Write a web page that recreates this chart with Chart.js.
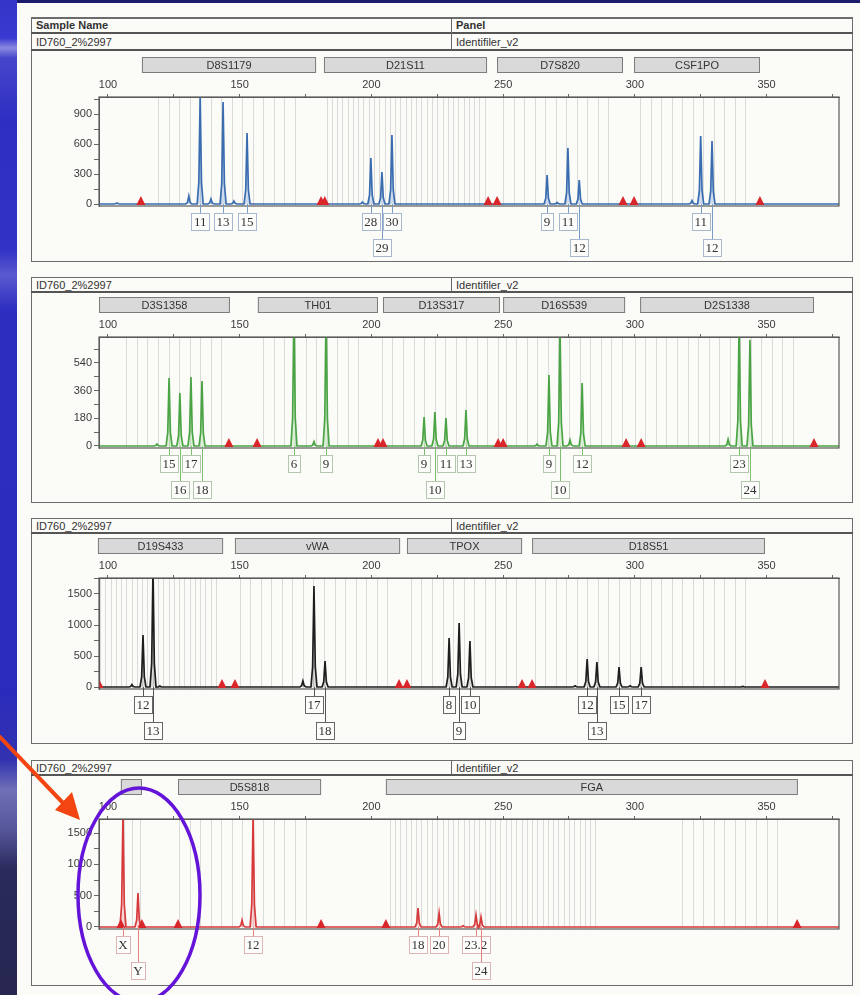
<!DOCTYPE html>
<html><head><meta charset="utf-8">
<script src="https://cdn.jsdelivr.net/npm/chart.js@4.4.1/dist/chart.umd.min.js"></script>
<style>
body{margin:0;width:860px;height:995px;overflow:hidden;background:#1c1c6e;position:relative;font-family:"Liberation Sans",Arial,sans-serif;}
#strip{position:absolute;left:0;top:0;width:17px;height:995px;
 background:linear-gradient(180deg,#3434c8 0px,#3a3ad2 38px,#8a8ae0 48px,#4646cc 58px,#2e2ec2 120px,#3232c6 250px,#5a5ad0 275px,#2d2dc0 310px,#2b2bbc 690px,#3232b0 760px,#7070b8 790px,#55559a 830px,#2a2a5c 870px,#262650 995px);}
#paper{position:absolute;left:17px;top:3px;width:843px;height:992px;background:#fbfbf8;}
.pbox{position:absolute;border:1.5px solid #6c6c6c;box-sizing:border-box;}
.hl{position:absolute;height:0;border-top:2px solid #555;}
.vl{position:absolute;width:0;border-left:1.5px solid #666;}
.ht{position:absolute;font-size:11px;color:#333;line-height:14px;white-space:nowrap;}
.b{font-weight:bold;}
canvas{position:absolute;}
svg{position:absolute;left:0;top:0;}
</style></head>
<body>
<div id="strip"></div>
<div id="paper"></div>

<!-- Panel 1 frame -->
<div class="pbox" style="left:31px;top:17px;width:822px;height:245px;border-top-width:2px"></div>
<div class="hl" style="left:31px;top:32px;width:822px"></div>
<div class="hl" style="left:31px;top:49px;width:822px"></div>
<div class="vl" style="left:451px;top:17px;height:33px"></div>
<div class="ht b" style="left:36px;top:18px">Sample Name</div>
<div class="ht b" style="left:456px;top:18px">Panel</div>
<div class="ht" style="left:36px;top:35px">ID760_2%2997</div>
<div class="ht" style="left:456px;top:35px">Identifiler_v2</div>

<!-- Panel 2 frame -->
<div class="pbox" style="left:31px;top:277px;width:822px;height:226px"></div>
<div class="hl" style="left:31px;top:291px;width:822px"></div>
<div class="vl" style="left:451px;top:277px;height:15px"></div>
<div class="ht" style="left:36px;top:278px">ID760_2%2997</div>
<div class="ht" style="left:456px;top:278px">Identifiler_v2</div>

<!-- Panel 3 frame -->
<div class="pbox" style="left:31px;top:518px;width:822px;height:226px"></div>
<div class="hl" style="left:31px;top:532px;width:822px"></div>
<div class="vl" style="left:451px;top:518px;height:15px"></div>
<div class="ht" style="left:36px;top:519px">ID760_2%2997</div>
<div class="ht" style="left:456px;top:519px">Identifiler_v2</div>

<!-- Panel 4 frame -->
<div class="pbox" style="left:31px;top:760px;width:822px;height:226px"></div>
<div class="hl" style="left:31px;top:774px;width:822px"></div>
<div class="vl" style="left:451px;top:760px;height:15px"></div>
<div class="ht" style="left:36px;top:761px">ID760_2%2997</div>
<div class="ht" style="left:456px;top:761px">Identifiler_v2</div>

<canvas id="c1" width="819" height="209" style="left:32px;top:51px"></canvas>
<canvas id="c2" width="819" height="208" style="left:32px;top:293px"></canvas>
<canvas id="c3" width="819" height="207" style="left:32px;top:535px"></canvas>
<canvas id="c4" width="819" height="207" style="left:32px;top:777px"></canvas>

<svg width="860" height="995" viewBox="0 0 860 995">
  <ellipse cx="139" cy="895" rx="61" ry="107" fill="none" stroke="#6414d8" stroke-width="3.5"/>
  <line x1="-2" y1="735" x2="64" y2="804" stroke="#f24512" stroke-width="4"/>
  <polygon points="80,820 55,810 72,792" fill="#f24512"/>
</svg>

<script>
// ---------- shared axis data ----------
const xTicks = [100,125,150,175,200,225,250,275,300,325,350,375];
const xMin = 96.6, xMax = 377.5;

// ---------- Panel 1 (blue dye) ----------
const loci1      = ['D8S1179','D21S11','D7S820','CSF1PO'];
const lociStart1 = [112.9,182.0,247.7,299.7];
const lociEnd1   = [179.0,243.9,295.5,347.5];
const peakSize1   = [135.0,143.7,152.8,199.8,204.0,207.8,266.7,274.6,278.9,325.0,329.3];
const peakHeight1 = [1080,1020,710,460,320,690,290,560,240,680,630];
const minorSize1   = [103.4,130.7,139.1,147.8,196.6,270.5,321.7];
const minorHeight1 = [10,80,50,30,20,15,35];
const allele1     = ['11','13','15','28','29','30','9','11','12','11','12'];
const sizeStd1    = [112.5,180.9,182.3,244.3,247.7,295.5,299.7,347.5];
const binFrom1 = [119,183,250,302], binTo1 = [174,243,293,345], binStep1 = [4,2,4,4];
const yTicks1 = [0,150,300,450,600,750,900,1050];
const yLabelEvery1 = 300;

// ---------- Panel 2 (green dye) ----------
const loci2      = ['D3S1358','TH01','D13S317','D16S539','D2S1338'];
const lociStart2 = [96.6,156.9,204.4,250.0,302.0];
const lociEnd2   = [146.3,202.5,248.8,296.3,368.0];
const peakSize2   = [123.2,127.3,131.5,135.7,170.6,182.8,220.0,224.1,228.3,235.9,267.4,271.6,280.0,339.6,343.7];
const peakHeight2 = [442,344,448,422,900,880,188,221,182,234,461,760,409,820,690];
const minorSize2   = [118.6,178.2,262.9,275.4,335.4];
const minorHeight2 = [13,28,12,39,43];
const allele2     = ['15','16','17','18','6','9','9','10','11','13','9','10','12','23','24'];
const sizeStd2    = [145.9,156.6,202.5,204.4,248.1,250.0,296.7,302.4,368.0];
const binFrom2 = [107,159,204,251,300], binTo2 = [146,198,248,296,360], binStep2 = [4,4,4,4,4];
const yTicks2 = [0,90,180,270,360,450,540,630];
const yLabelEvery2 = 180;

// ---------- Panel 3 (black/yellow dye) ----------
const loci3      = ['D19S433','vWA','TPOX','D18S51'];
const lociStart3 = [96.2,148.2,213.5,261.0];
const lociEnd3   = [143.7,210.9,257.2,349.4];
const peakSize3   = [113.3,117.1,178.2,182.4,229.5,233.3,237.4,281.9,285.6,294.0,302.4];
const peakHeight3 = [839,1900,1629,419,790,1032,742,452,403,323,323];
const minorSize3   = [109.1,119.7,174.0,277.3,298.2,341.0];
const minorHeight3 = [40,15,97,20,20,10];
const allele3     = ['12','13','17','18','8','9','10','12','13','15','17'];
const sizeStd3    = [96.6,143.3,148.2,210.5,213.5,257.2,261.0,349.4];
const binFrom3 = [97,150,215,262], binTo3 = [141,209,256,345], binStep3 = [2,4,4,4];
const yTicks3 = [0,250,500,750,1000,1250,1500,1750];
const yLabelEvery3 = 500;

// ---------- Panel 4 (red dye) ----------
const loci4      = ['','D5S818','FGA'];
const lociStart4 = [104.9,126.6,205.5];
const lociEnd4   = [112.9,180.9,361.9];
const peakSize4   = [105.7,111.4,155.1,217.7,225.7,239.7,241.6];
const peakHeight4 = [1800,543,1800,303,224,192,160];
const minorSize4   = [150.9,234.8];
const minorHeight4 = [110,20];
const allele4     = ['X','Y','12','18','20','23.2','24'];
const sizeStd4    = [104.9,112.9,126.6,180.9,205.5,361.6];
const binFrom4 = [106,127,207,318], binTo4 = [113,176,285,354], binStep4 = [3,4,2,4];
const yTicks4 = [0,250,500,750,1000,1250,1500];
const yLabelEvery4 = 500;

// ---------- helpers ----------
function buildTrace(sizes, heights, mSizes, mHeights){
  const pts = [{x:xMin,y:0},{x:xMax,y:0}];
  const add = (s,h)=>{ pts.push({x:s-1.15,y:0},{x:s-0.5,y:h*0.2},{x:s,y:h},{x:s+0.5,y:h*0.2},{x:s+1.15,y:0}); };
  sizes.forEach((s,i)=>add(s,heights[i]));
  mSizes.forEach((s,i)=>add(s,mHeights[i]));
  pts.sort((a,b)=>a.x-b.x);
  return pts;
}

const overlayPlugin = {
  id:'overlay',
  beforeDatasetsDraw(chart){
    const o = chart.options.plugins.overlay, x = chart.scales.x, a = chart.chartArea, ctx = chart.ctx;
    ctx.save();
    ctx.strokeStyle = 'rgba(0,0,0,0.13)'; ctx.lineWidth = 1;
    o.binFrom.forEach((f,i)=>{
      for(let v=f; v<=o.binTo[i]+0.01; v+=o.binStep[i]){
        const px = Math.round(x.getPixelForValue(v))+0.5;
        ctx.beginPath(); ctx.moveTo(px,a.top); ctx.lineTo(px,a.bottom); ctx.stroke();
      }
    });
    ctx.restore();
  },
  afterDatasetsDraw(chart){
    const o = chart.options.plugins.overlay, x = chart.scales.x, y = chart.scales.y, a = chart.chartArea, ctx = chart.ctx;
    const base = y.getPixelForValue(0);
    ctx.save();
    ctx.beginPath(); ctx.rect(a.left,a.top,a.right-a.left,a.bottom-a.top+2); ctx.clip();
    ctx.fillStyle = '#d8262a';
    o.sizeStd.forEach(s=>{
      const px = x.getPixelForValue(s);
      ctx.beginPath(); ctx.moveTo(px-4.5,base+1); ctx.lineTo(px+4.5,base+1); ctx.lineTo(px,base-8); ctx.closePath(); ctx.fill();
    });
    ctx.restore();
    ctx.save(); ctx.strokeStyle='#5a5a5a'; ctx.lineWidth=1.2;
    ctx.strokeRect(a.left,a.top,a.right-a.left,a.bottom-a.top);
    ctx.restore();
  },
  afterDraw(chart){
    const o = chart.options.plugins.overlay, x = chart.scales.x, y = chart.scales.y, a = chart.chartArea, ctx = chart.ctx;
    const base = y.getPixelForValue(0);
    ctx.save();
    const lt = a.top - 40;
    ctx.font = '11px "Liberation Sans", Arial, sans-serif';
    ctx.textAlign='center'; ctx.textBaseline='middle';
    o.loci.forEach((n,i)=>{
      const l = x.getPixelForValue(o.lociStart[i]), r = x.getPixelForValue(o.lociEnd[i]);
      ctx.fillStyle='#d9d9d9'; ctx.fillRect(l,lt,r-l,16);
      ctx.strokeStyle='#7c7c7c'; ctx.lineWidth=1; ctx.strokeRect(l+0.5,lt+0.5,r-l-1,15);
      ctx.fillStyle='#333'; ctx.fillText(n,(l+r)/2,lt+8.5);
    });
    ctx.font = '13px "Liberation Serif", "Times New Roman", serif';
    let lastRight = -1e9;
    o.alleleSize.forEach((s,i)=>{
      const txt = o.allele[i];
      const px = x.getPixelForValue(s);
      const w = ctx.measureText(txt).width + 5;
      const left = px - w/2;
      let row = 1;
      if(left < lastRight + 1.5){ row = 2; } else { lastRight = left + w; }
      const top = base + (row===1 ? 9 : 35);
      ctx.strokeStyle = o.linkColor; ctx.lineWidth = 1;
      ctx.beginPath(); ctx.moveTo(Math.round(px)+0.5,base); ctx.lineTo(Math.round(px)+0.5,top); ctx.stroke();
      ctx.fillStyle='#fdfdfb'; ctx.fillRect(left,top,w,17);
      ctx.strokeStyle = o.boxColor; ctx.strokeRect(Math.round(left)+0.5,top+0.5,Math.round(w),17);
      ctx.fillStyle='#333'; ctx.fillText(txt,px,top+9.5);
    });
    ctx.restore();
  }
};

function makeChart(id, cfg){
  new Chart(document.getElementById(id), {
    type:'line',
    data:{datasets:[{
      data: buildTrace(cfg.peakSize,cfg.peakHeight,cfg.minorSize,cfg.minorHeight),
      borderColor: cfg.color, borderWidth: 1.7, backgroundColor: cfg.fill,
      fill:'origin', pointRadius:0, tension:0
    }]},
    options:{
      responsive:false, animation:false, devicePixelRatio:1,
      layout:{padding:{left:0,right:12,top:cfg.padTop,bottom:cfg.padBottom}},
      plugins:{legend:{display:false},tooltip:{enabled:false},
        overlay:{loci:cfg.loci,lociStart:cfg.lociStart,lociEnd:cfg.lociEnd,allele:cfg.allele,alleleSize:cfg.peakSize,
                 sizeStd:cfg.sizeStd,binFrom:cfg.binFrom,binTo:cfg.binTo,binStep:cfg.binStep,
                 linkColor:cfg.linkColor,boxColor:cfg.boxColor}},
      scales:{
        x:{type:'linear',position:'top',min:xMin,max:xMax,
           afterBuildTicks:s=>{s.ticks = xTicks.map(v=>({value:v}));},
           afterFit:s=>{s.height=18;},
           grid:{drawOnChartArea:false,drawTicks:true,tickLength:3,color:'#666'},
           border:{display:true,color:'#5a5a5a'},
           ticks:{autoSkip:false,maxRotation:0,padding:2,color:'#3a3a3a',font:{size:11,family:'"Liberation Sans", Arial, sans-serif'},
                  callback:v=> (v%50===0 ? String(v) : '')}},
        y:{type:'linear',min:cfg.yMin,max:cfg.yMax,
           afterBuildTicks:s=>{s.ticks = cfg.yTicks.map(v=>({value:v}));},
           afterFit:s=>{s.width=67;},
           grid:{drawOnChartArea:false,drawTicks:true,tickLength:5,color:'#666'},
           border:{display:true,color:'#5a5a5a'},
           ticks:{autoSkip:false,padding:2,color:'#3a3a3a',font:{size:11,family:'"Liberation Sans", Arial, sans-serif'},
                  callback:v=> (v%cfg.yLabelEvery===0 ? String(v) : '')}}
      }
    },
    plugins:[overlayPlugin]
  });
}

makeChart('c1',{loci:loci1,lociStart:lociStart1,lociEnd:lociEnd1,peakSize:peakSize1,peakHeight:peakHeight1,minorSize:minorSize1,minorHeight:minorHeight1,
  allele:allele1,sizeStd:sizeStd1,binFrom:binFrom1,binTo:binTo1,binStep:binStep1,yTicks:yTicks1,yLabelEvery:yLabelEvery1,
  yMin:-20,yMax:1070,padTop:28,padBottom:54,color:'#3a6cb0',fill:'rgba(120,160,215,0.35)',linkColor:'#7c9cc8',boxColor:'#a8b8cc'});
makeChart('c2',{loci:loci2,lociStart:lociStart2,lociEnd:lociEnd2,peakSize:peakSize2,peakHeight:peakHeight2,minorSize:minorSize2,minorHeight:minorHeight2,
  allele:allele2,sizeStd:sizeStd2,binFrom:binFrom2,binTo:binTo2,binStep:binStep2,yTicks:yTicks2,yLabelEvery:yLabelEvery2,
  yMin:-13,yMax:708,padTop:26,padBottom:53,color:'#4aa444',fill:'rgba(140,210,130,0.3)',linkColor:'#7cbf6f',boxColor:'#b4c6ae'});
makeChart('c3',{loci:loci3,lociStart:lociStart3,lociEnd:lociEnd3,peakSize:peakSize3,peakHeight:peakHeight3,minorSize:minorSize3,minorHeight:minorHeight3,
  allele:allele3,sizeStd:sizeStd3,binFrom:binFrom3,binTo:binTo3,binStep:binStep3,yTicks:yTicks3,yLabelEvery:yLabelEvery3,
  yMin:-32,yMax:1758,padTop:25,padBottom:53,color:'#1e1e1e',fill:'rgba(120,120,120,0.25)',linkColor:'#555',boxColor:'#666'});
makeChart('c4',{loci:loci4,lociStart:lociStart4,lociEnd:lociEnd4,peakSize:peakSize4,peakHeight:peakHeight4,minorSize:minorSize4,minorHeight:minorHeight4,
  allele:allele4,sizeStd:sizeStd4,binFrom:binFrom4,binTo:binTo4,binStep:binStep4,yTicks:yTicks4,yLabelEvery:yLabelEvery4,
  yMin:-32,yMax:1725,padTop:24,padBottom:55,color:'#d63a3a',fill:'rgba(240,150,150,0.35)',linkColor:'#e08080',boxColor:'#dcb4b4'});
</script>
</body></html>
